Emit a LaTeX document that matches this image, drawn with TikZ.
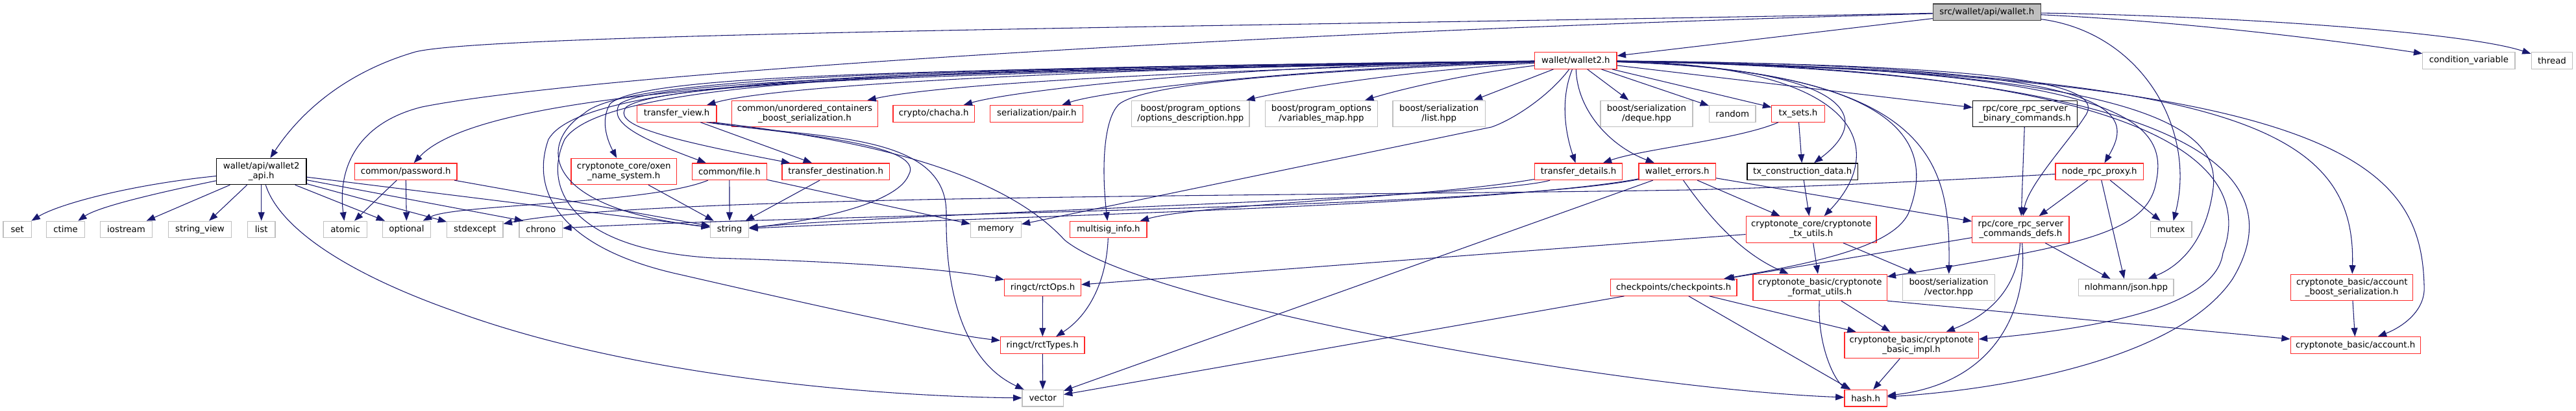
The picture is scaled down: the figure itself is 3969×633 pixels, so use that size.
\documentclass[tikz,border=0pt]{standalone}
\usepackage{fontspec}
\setmainfont{DejaVu Sans}
\usetikzlibrary{arrows.meta}
\definecolor{edgeblue}{RGB}{25,25,112}
\definecolor{nodered}{RGB}{255,40,40}
\definecolor{nodegrey}{RGB}{191,191,191}
\definecolor{rootfill}{RGB}{191,191,191}
\definecolor{rootline}{RGB}{64,64,64}
\tikzset{
  base/.style={draw, line width=0.9pt, fill=white, inner sep=0pt, align=center, font=\fontsize{10}{11.2}\selectfont},
  rn/.style={base, draw=nodered},
  gn/.style={base, draw=nodegrey},
  bn/.style={base, draw=black},
  rootn/.style={base, draw=rootline, fill=rootfill},
  one/.style={minimum width=#1*0.75pt, minimum height=19.2pt},
  two/.style={minimum width=#1*0.75pt, minimum height=30.3pt},
  e/.style={draw=edgeblue, line width=0.8pt, -{Triangle[length=10pt,width=7.5pt]}},
}
\begin{document}
\begin{tikzpicture}[x=0.75pt,y=-0.75pt]
\useasboundingbox (0,0) rectangle (3969,633);
% row 0/1
\node[rootn,one=166] (root) at (3061.3,18.7) {src/wallet/api/wallet.h};
\node[rn,one=126.3] (w2) at (2427.9,93.5) {wallet/wallet2.h};
\node[gn,one=142.1] (condvar) at (3803.9,93.5) {condition\_variable};
\node[gn,one=63.7] (thread) at (3932,93.5) {thread};
% row 2
\node[rn,one=122.8] (tview) at (1042.6,175.3) {transfer\_view.h};
\node[rn,two=224.5] (unord) at (1240,175.3) {common/unordered\_containers\\\_boost\_serialization.h};
\node[rn,one=125.4] (chacha) at (1438.6,175.3) {crypto/chacha.h};
\node[rn,one=142.9] (pair) at (1597.3,175.3) {serialization/pair.h};
\node[gn,two=181.2] (optdesc) at (1834.4,175.3) {boost/program\_options\\/options\_description.hpp};
\node[gn,two=172.3] (varmap) at (2036,175.3) {boost/program\_options\\/variables\_map.hpp};
\node[gn,two=142.4] (listhpp) at (2217.2,175.3) {boost/serialization\\/list.hpp};
\node[gn,two=142] (deque) at (2537,175.3) {boost/serialization\\/deque.hpp};
\node[gn,one=71.4] (random) at (2669.2,175.3) {random};
\node[rn,one=81.3] (txsets) at (2770.5,175.3) {tx\_sets.h};
\node[bn,two=160.7] (bincmd) at (3120,175.3) {rpc/core\_rpc\_server\\\_binary\_commands.h};
% row 3
\node[bn,two=138.5] (w2api) at (402.7,264.5) {wallet/api/wallet2\\\_api.h};
\node[rn,one=157.6] (password) at (625.2,264.7) {common/password.h};
\node[rn,two=162.5] (oxen) at (961.2,264.5) {cryptonote\_core/oxen\\\_name\_system.h};
\node[rn,one=114.8] (file) at (1123.9,264.7) {common/file.h};
\node[rn,one=165.6] (tdest) at (1287.7,264.7) {transfer\_destination.h};
\node[rn,one=135.3] (tdetails) at (2432,264.7) {transfer\_details.h};
\node[rn,one=118.3] (werrors) at (2584.2,264.7) {wallet\_errors.h};
\node[bn,one=170.5] (txcd) at (2777.2,264.7) {tx\_construction\_data.h};
\node[rn,one=135.3] (proxy) at (3234.7,264.7) {node\_rpc\_proxy.h};
% row 4
\node[gn,one=43.3] (set) at (26.7,354) {set};
\node[gn,one=58.7] (ctime) at (101,354) {ctime};
\node[gn,one=80.3] (iostream) at (194.5,354) {iostream};
\node[gn,one=97.3] (stringview) at (308,354) {string\_view};
\node[gn,one=42.7] (list) at (402.7,354) {list};
\node[gn,one=67] (atomic) at (532.1,354) {atomic};
\node[gn,one=74.5] (optional) at (626.5,354) {optional};
\node[gn,one=86.2] (stdexcept) at (731.9,354) {stdexcept};
\node[gn,one=66.5] (chrono) at (833.3,354) {chrono};
\node[gn,one=59] (string) at (1124.1,354) {string};
\node[gn,one=77.7] (memory) at (1534.4,354) {memory};
\node[rn,one=118.3] (multisig) at (1707.8,354) {multisig\_info.h};
\node[rn,two=200.8] (txutils) at (2790.6,354) {cryptonote\_core/cryptonote\\\_tx\_utils.h};
\node[rn,two=149.2] (cmddefs) at (3113.4,354) {rpc/core\_rpc\_server\\\_commands\_defs.h};
\node[gn,one=63.7] (mutex) at (3345.2,354) {mutex};
% row 5
\node[rn,one=117.7] (rctops) at (1606.5,443.4) {ringct/rctOps.h};
\node[rn,one=194.6] (checkpoints) at (2578.6,443.4) {checkpoints/checkpoints.h};
\node[rn,two=206.2] (fmtutils) at (2804,443.3) {cryptonote\_basic/cryptonote\\\_format\_utils.h};
\node[gn,two=142.4] (vechpp) at (3002.5,443.3) {boost/serialization\\/vector.hpp};
\node[gn,one=146.3] (json) at (3275.9,443.4) {nlohmann/json.hpp};
\node[rn,two=188] (accbs) at (3623.7,443.3) {cryptonote\_basic/account\\\_boost\_serialization.h};
% row 6
\node[rn,one=129.3] (rcttypes) at (1606.3,532.5) {ringct/rctTypes.h};
\node[rn,two=206.2] (basicimpl) at (2945.1,532.5) {cryptonote\_basic/cryptonote\\\_basic\_impl.h};
\node[rn,one=199.9] (account) at (3629.2,532.5) {cryptonote\_basic/account.h};
% row 7
\node[gn,one=63.3] (vector) at (1606.7,614.2) {vector};
\node[rn,one=65.1] (hash) at (2874.6,614.2) {hash.h};

% ---- edges from root
\draw[e] (root) .. controls (2000,40) and (760,50) .. (640,80) .. controls (520,115) and (455,185) .. (w2api);
\draw[e] (root) -- (w2);
\draw[e] (root) .. controls (1900,50) and (900,115) .. (650,165) .. controls (550,190) and (520,260) .. (atomic);
\draw[e] (root) .. controls (3300,50) and (3385,200) .. (mutex);
\draw[e] (root) .. controls (3400,35) and (3650,70) .. (condvar);
\draw[e] (root) .. controls (3450,25) and (3800,50) .. (thread);

% ---- edges from wallet2.h
\draw[e] (w2) .. controls (1700,105) and (1200,130) .. (tview);
\draw[e] (w2) .. controls (1800,110) and (1450,130) .. (unord);
\draw[e] (w2) .. controls (1900,100) and (1560,140) .. (chacha);
\draw[e] (w2) .. controls (2000,105) and (1700,140) .. (pair);
\draw[e] (w2) .. controls (2150,110) and (1980,140) .. (optdesc);
\draw[e] (w2) .. controls (2250,115) and (2150,140) .. (varmap);
\draw[e] (w2) -- (listhpp);
\draw[e] (w2) -- (deque);
\draw[e] (w2) -- (random);
\draw[e] (w2) -- (txsets);
\draw[e] (w2) -- (bincmd);
\draw[e] (w2) .. controls (1500,108) and (760,120) .. (password);
\draw[e] (w2) .. controls (1400,108) and (990,115) .. (940,160) .. controls (925,185) and (935,215) .. (oxen);
\draw[e] (w2) .. controls (1400,112) and (1010,125) .. (955,160) .. controls (935,190) and (990,215) .. (file);
\draw[e] (w2) .. controls (1400,114) and (1020,128) .. (965,165) .. controls (945,190) and (1000,210) .. (tdest);
\draw[e] (w2) .. controls (1400,105) and (960,120) .. (900,175) .. controls (830,220) and (830,320) .. (string);
\draw[e] (w2) .. controls (1400,105) and (930,125) .. (870,215) .. controls (835,290) and (880,385) .. (1100,398) .. controls (1350,405) and (1480,418) .. (rctops);
\draw[e] (w2) .. controls (1400,105) and (900,120) .. (845,215) .. controls (815,300) and (870,385) .. (1050,424) .. controls (1250,470) and (1450,515) .. (rcttypes);
\draw[e] (w2) .. controls (2405,150) and (2410,200) .. (tdetails);
\draw[e] (w2) .. controls (2430,170) and (2480,225) .. (werrors);
\draw[e] (w2) .. controls (2850,105) and (2890,180) .. (txcd);
\draw[e] (w2) .. controls (3280,100) and (3290,170) .. (proxy);
\draw[e] (w2) .. controls (2000,110) and (1770,128) .. (1725,160) .. controls (1700,182) and (1697,260) .. (multisig);
\draw[e] (w2) .. controls (2385,150) and (2330,185) .. (2298,196) -- (memory);
\draw[e] (w2) .. controls (2870,100) and (2910,230) .. (txutils);
\draw[e] (w2) .. controls (3100,100) and (3250,130) .. (3212,180) .. controls (3190,215) and (3125,285) .. (cmddefs);
\draw[e] (w2) .. controls (2950,110) and (2980,230) .. (2940,330) .. controls (2915,380) and (2800,405) .. (checkpoints);
\draw[e] (w2) .. controls (2980,110) and (3005,250) .. (vechpp);
\draw[e] (w2) .. controls (3320,105) and (3420,200) .. (3410,290) .. controls (3400,370) and (3360,410) .. (json);
\draw[e] (w2) .. controls (3450,110) and (3630,200) .. (accbs);
\draw[e] (w2) .. controls (3300,105) and (3345,190) .. (3320,290) .. controls (3300,360) and (3200,380) .. (fmtutils);
\draw[e] (w2) .. controls (3420,110) and (3530,280) .. (3440,430) .. controls (3360,550) and (3100,600) .. (hash);
\draw[e] (w2) .. controls (3370,105) and (3470,270) .. (3425,390) .. controls (3415,470) and (3250,505) .. (basicimpl);
\draw[e] (w2) .. controls (3600,115) and (3730,250) .. (3735,440) .. controls (3738,480) and (3700,505) .. (account);

% ---- edges from wallet2_api.h
\draw[e] (w2api) .. controls (200,285) and (90,315) .. (set);
\draw[e] (w2api) .. controls (230,300) and (150,320) .. (ctime);
\draw[e] (w2api) -- (iostream);
\draw[e] (w2api) -- (stringview);
\draw[e] (w2api) -- (list);
\draw[e] (w2api) -- (optional);
\draw[e] (w2api) -- (stdexcept);
\draw[e] (w2api) -- ([xshift=5pt]chrono.north west);
\draw[e] (w2api) -- (string);
\draw[e] (w2api) .. controls (430,350) and (530,420) .. (700,480) .. controls (1000,590) and (1400,612) .. (vector);

% ---- other edges
\draw[e] (password) -- (atomic);
\draw[e] (password) -- (optional);
\draw[e] (password) -- (string);
\draw[e] (oxen) -- (string);
\draw[e] (file) -- (string);
\draw[e] (file) .. controls (1000,315) and (700,315) .. (optional);
\draw[e] (file) -- (memory);
\draw[e] (tdest) -- (string);
\draw[e] (tview) -- (tdest);
\draw[e] ([xshift=-12pt]tview.south east) .. controls (1200,205) and (1430,220) .. (1400,270) .. controls (1380,320) and (1220,345) .. (string);
\draw[e] ([xshift=-8pt]tview.south east) .. controls (1250,215) and (1460,200) .. (1458,330) .. controls (1456,480) and (1500,565) .. (vector);
\draw[e] ([xshift=-4pt]tview.south east) .. controls (1280,210) and (1530,250) .. (1640,370) .. controls (1760,470) and (2500,600) .. (hash);
\draw[e] (tdetails) .. controls (2200,305) and (1850,315) .. (multisig);
\draw[e] (tdetails) .. controls (2300,305) and (1400,328) .. (string);
\draw[e] (werrors) .. controls (2300,322) and (1200,332) .. (chrono);
\draw[e] (werrors) .. controls (2300,318) and (1500,335) .. (string);
\draw[e] (werrors) -- (vector);
\draw[e] (werrors) -- (txutils);
\draw[e] (werrors) .. controls (2630,330) and (2680,390) .. (fmtutils);
\draw[e] (werrors) -- (cmddefs);
\draw[e] (txsets) -- (txcd);
\draw[e] (txsets) .. controls (2680,215) and (2530,230) .. (tdetails);
\draw[e] (txcd) -- (txutils);
\draw[e] (proxy) -- (cmddefs);
\draw[e] (proxy) -- (json);
\draw[e] (proxy) -- (mutex);
\draw[e] (proxy) .. controls (3000,278) and (2800,288) .. (2600,293) .. controls (2000,303) and (1000,300) .. (stdexcept);
\draw[e] (bincmd) -- (cmddefs);
\draw[e] (txutils) -- (rctops);
\draw[e] (txutils) -- (fmtutils);
\draw[e] (txutils) -- (vechpp);
\draw[e] (cmddefs) -- (checkpoints);
\draw[e] (cmddefs) -- (json);
\draw[e] (cmddefs) .. controls (3110,430) and (3080,480) .. (basicimpl);
\draw[e] (cmddefs) .. controls (3125,470) and (3080,590) .. (hash);
\draw[e] (checkpoints) -- (vector);
\draw[e] (checkpoints) -- (hash);
\draw[e] (checkpoints) -- (basicimpl);
\draw[e] (fmtutils) .. controls (2800,540) and (2830,590) .. (hash);
\draw[e] (fmtutils) -- (basicimpl);
\draw[e] (fmtutils.south east) -- (account);
\draw[e] (basicimpl) -- (hash);
\draw[e] (accbs) -- (account);
\draw[e] (rctops) -- (rcttypes);
\draw[e] (multisig) .. controls (1705,430) and (1680,485) .. (rcttypes);
\draw[e] (rcttypes) -- (vector);
\end{tikzpicture}
\end{document}
